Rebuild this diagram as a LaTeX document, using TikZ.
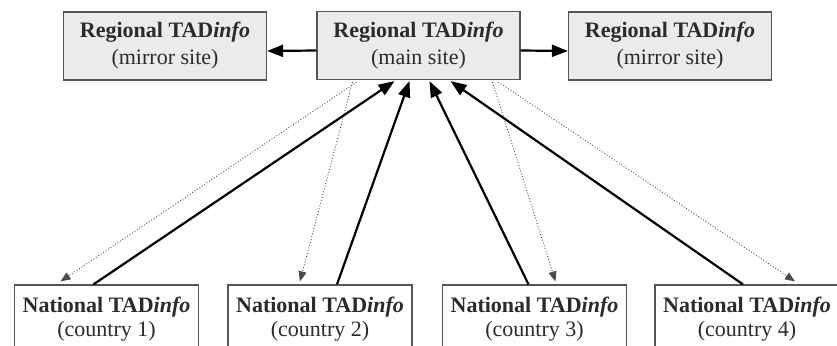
\documentclass[tikz,border=0pt]{standalone}
\usepackage{fontspec}
\setmainfont{Liberation Serif}
\usetikzlibrary{arrows.meta,calc}

\definecolor{boxgray}{HTML}{EBEBEB}
\definecolor{edgegray}{HTML}{555555}
\definecolor{inkgray}{HTML}{2B2B2B}

\tikzset{
  site/.style={draw=edgegray, fill=boxgray, line width=.6pt, inner sep=0pt, align=center,
    minimum width=101.5pt, minimum height=34pt, text=inkgray,
    font=\fontsize{11}{13.5}\selectfont},
  natbox/.style={draw=edgegray, fill=white, line width=.6pt, inner sep=0pt, align=center,
    minimum width=92pt, minimum height=34pt, text=inkgray,
    font=\fontsize{11}{12}\selectfont},
  upload/.style={line width=1.1pt, black, -{Triangle[length=8pt,width=6pt]}},
  feed/.style={line width=.45pt, gray!60!black, densely dotted, -{Triangle[length=5pt,width=4pt]}}
}

\begin{document}
\begin{tikzpicture}[x=0.5pt, y=-0.5pt]
\useasboundingbox (0,0) rectangle (837,346);

\node[site] (west) at (165,46) {\textbf{Regional TAD\textit{info}}\\(mirror site)};
\node[site] (main) at (418.5,45.5) {\textbf{Regional TAD\textit{info}}\\(main site)};
\node[site] (east) at (670,46) {\textbf{Regional TAD\textit{info}}\\(mirror site)};

\node[natbox] (c1) at (106.5,319) {\textbf{National TAD\textit{info}}\\(country 1)};
\node[natbox] (c2) at (320,319) {\textbf{National TAD\textit{info}}\\(country 2)};
\node[natbox] (c3) at (534.5,319) {\textbf{National TAD\textit{info}}\\(country 3)};
\node[natbox] (c4) at (747,319) {\textbf{National TAD\textit{info}}\\(country 4)};

\draw[upload] ([yshift=-2.5pt]main.west) -- ([yshift=-2.5pt]west.east);
\draw[upload] ([yshift=-2.5pt]main.east) -- ([yshift=-2.5pt]east.west);

\draw[feed] ($(main.south)+(-62,2)$) -- ($(c1.north)+(-46,-3)$);
\draw[feed] ($(main.south)+(-66,2)$) -- ($(c2.north)+(-20,-3)$);
\draw[feed] ($(main.south)+(74,2)$) -- ($(c3.north)+(21,-3)$);
\draw[feed] ($(main.south)+(80,2)$) -- ($(c4.north)+(48,-3)$);

\draw[upload] ($(c1.north)+(-13,0)$) -- ($(main.south)+(-24,1)$);
\draw[upload] ($(c2.north)+(17,0)$) -- ($(main.south)+(-9,1)$);
\draw[upload] ($(c3.north)+(-6,0)$) -- ($(main.south)+(11,1)$);
\draw[upload] ($(c4.north)+(-4,0)$) -- ($(main.south)+(32,1)$);
\end{tikzpicture}
\end{document}
